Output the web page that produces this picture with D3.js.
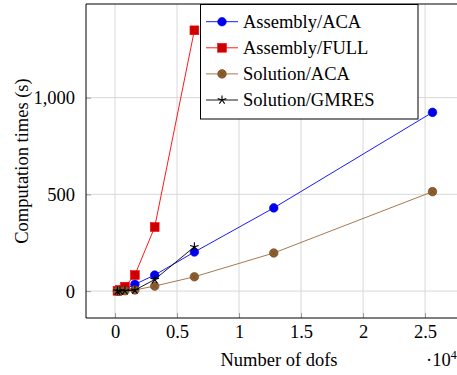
<!DOCTYPE html>
<html>
<head>
<meta charset="utf-8">
<script src="https://cdn.jsdelivr.net/npm/d3@7"></script>
<style>
  body { margin: 0; background: #fff; }
</style>
</head>
<body>
<script>
// dofs
const dofs = [200, 400, 800, 1600, 3200, 6400, 12800, 25600];
const assemblyACA = [1, 3, 10, 35, 83, 202, 430, 924];
const assemblyFULL = [1.5, 6, 23, 83, 331, 1348];
const solutionACA = [0.2, 0.6, 2, 6, 26, 74, 197, 514];
const solutionGMRES = [0.1, 0.4, 1.5, 5, 60, 229];

const xTicks = [0, 5000, 10000, 15000, 20000, 25000];
const xTickLabels = ["0", "0.5", "1", "1.5", "2", "2.5"];
const yTicks = [0, 500, 1000];
const yTickLabels = ["0", "500", "1,000"];

const seriesNames = ["Assembly/ACA", "Assembly/FULL", "Solution/ACA", "Solution/GMRES"];

const w = 457, h = 375;
const padL = 86, padR = 464, padT = 4, padB = 318;
const fs = "18.5px";
const ff = "'Liberation Serif', 'Times New Roman', Times, Tinos, 'Noto Serif', 'DejaVu Serif', FreeSerif, serif";

const xScale = d3.scaleLinear().domain([-2340, 28140]).range([padL, padR]);
const yScale = d3.scaleLinear().domain([-139, 1484]).range([padB, padT]);

const svg = d3.select("body").append("svg")
  .attr("width", w).attr("height", h)
  .attr("font-family", ff);

// grid
svg.append("g").selectAll("line").data(xTicks).enter().append("line")
  .attr("x1", d => xScale(d)).attr("x2", d => xScale(d))
  .attr("y1", padT).attr("y2", padB)
  .attr("stroke", "#d4d4d4").attr("stroke-width", 0.9);
svg.append("g").selectAll("line").data(yTicks).enter().append("line")
  .attr("x1", padL).attr("x2", padR)
  .attr("y1", d => yScale(d)).attr("y2", d => yScale(d))
  .attr("stroke", "#d4d4d4").attr("stroke-width", 0.9);

// axes (ticks inside, pgfplots style)
const xAxis = d3.axisBottom(xScale).tickValues(xTicks)
  .tickSize(-5).tickPadding(10).tickFormat((d, i) => xTickLabels[i]);
const gx = svg.append("g").attr("transform", "translate(0," + padB + ")").call(xAxis);
const yAxis = d3.axisLeft(yScale).tickValues(yTicks)
  .tickSize(-5).tickPadding(11).tickFormat((d, i) => yTickLabels[i]);
const gy = svg.append("g").attr("transform", "translate(" + padL + ",0)").call(yAxis);

[gx, gy].forEach(g => {
  g.attr("font-family", ff).attr("font-size", fs);
  g.select(".domain").remove();
  g.selectAll(".tick line").attr("stroke", "#999");
  g.selectAll(".tick text").attr("fill", "#000").attr("font-family", ff);
});
gx.selectAll(".tick text").attr("dy", "0.71em").attr("y", 7);
gy.selectAll(".tick text").attr("dy", "0.34em");

// frame
svg.append("path")
  .attr("d", "M" + padR + "," + padT + "H" + padL + "V" + padB + "H" + padR)
  .attr("fill", "none").attr("stroke", "#000").attr("stroke-width", 1);

// markers
function drawMarker(g, kind, x, y) {
  if (kind === "circle") {
    g.append("circle").attr("cx", x).attr("cy", y).attr("r", 4.3)
      .attr("fill", "#0000f0").attr("stroke", "#0000ff").attr("stroke-width", 0.6);
  } else if (kind === "square") {
    g.append("rect").attr("x", x - 4.4).attr("y", y - 4.4).attr("width", 8.8).attr("height", 8.8)
      .attr("fill", "#cc0000").attr("stroke", "#ff0000").attr("stroke-width", 0.6);
  } else if (kind === "otimes") {
    g.append("circle").attr("cx", x).attr("cy", y).attr("r", 4.3)
      .attr("fill", "#8f5f2e").attr("stroke", "#6b4520").attr("stroke-width", 0.6);
    const r = 3;
    g.append("path")
      .attr("d", "M" + (x - r) + "," + (y - r) + "L" + (x + r) + "," + (y + r) +
        "M" + (x - r) + "," + (y + r) + "L" + (x + r) + "," + (y - r))
      .attr("stroke", "#6b4520").attr("stroke-width", 0.6);
  } else if (kind === "star") {
    let d = "";
    for (let k = 0; k < 5; k++) {
      const a = -Math.PI / 2 + k * 2 * Math.PI / 5;
      d += "M" + x + "," + y + "L" + (x + 4.5 * Math.cos(a)) + "," + (y + 4.5 * Math.sin(a));
    }
    g.append("path").attr("d", d).attr("stroke", "#000").attr("stroke-width", 1.1).attr("fill", "none");
  }
}

const series = [
  { vals: assemblyACA, color: "#0000ff", mark: "circle" },
  { vals: assemblyFULL, color: "#ff0000", mark: "square" },
  { vals: solutionACA, color: "#9a6a3a", mark: "otimes" },
  { vals: solutionGMRES, color: "#000000", mark: "star" }
];

const line = d3.line().x(d => xScale(d[0])).y(d => yScale(d[1]));

series.forEach(s => {
  const pts = s.vals.map((v, i) => [dofs[i], v]);
  const g = svg.append("g");
  g.append("path").datum(pts).attr("d", line)
    .attr("fill", "none").attr("stroke", s.color).attr("stroke-width", 0.9);
  pts.forEach(p => drawMarker(g, s.mark, xScale(p[0]), yScale(p[1])));
});

// legend
const lg = svg.append("g");
lg.append("rect").attr("x", 200.5).attr("y", 4.5).attr("width", 217.5).attr("height", 114.5)
  .attr("fill", "#fff").attr("stroke", "#000").attr("stroke-width", 1);
series.forEach((s, i) => {
  const cy = 21.7 + i * 26.1;
  lg.append("line").attr("x1", 206).attr("x2", 238).attr("y1", cy).attr("y2", cy)
    .attr("stroke", s.color).attr("stroke-width", 0.9);
  drawMarker(lg, s.mark, 222, cy);
  lg.append("text").attr("x", 243).attr("y", cy + 6.3)
    .attr("font-family", ff).attr("font-size", fs).text(seriesNames[i]);
});

// axis labels
svg.append("text").attr("x", 279).attr("y", 366).attr("text-anchor", "middle")
  .attr("font-family", ff).attr("font-size", fs).text("Number of dofs");
const sc = svg.append("text").attr("x", 426).attr("y", 366)
  .attr("font-family", ff).attr("font-size", fs);
sc.append("tspan").text("·10");
sc.append("tspan").attr("dy", -7).attr("font-size", "12px").text("4");

svg.append("text").attr("transform", "translate(28,161) rotate(-90)")
  .attr("text-anchor", "middle").attr("font-family", ff).attr("font-size", fs)
  .text("Computation times (s)");
</script>
</body>
</html>
